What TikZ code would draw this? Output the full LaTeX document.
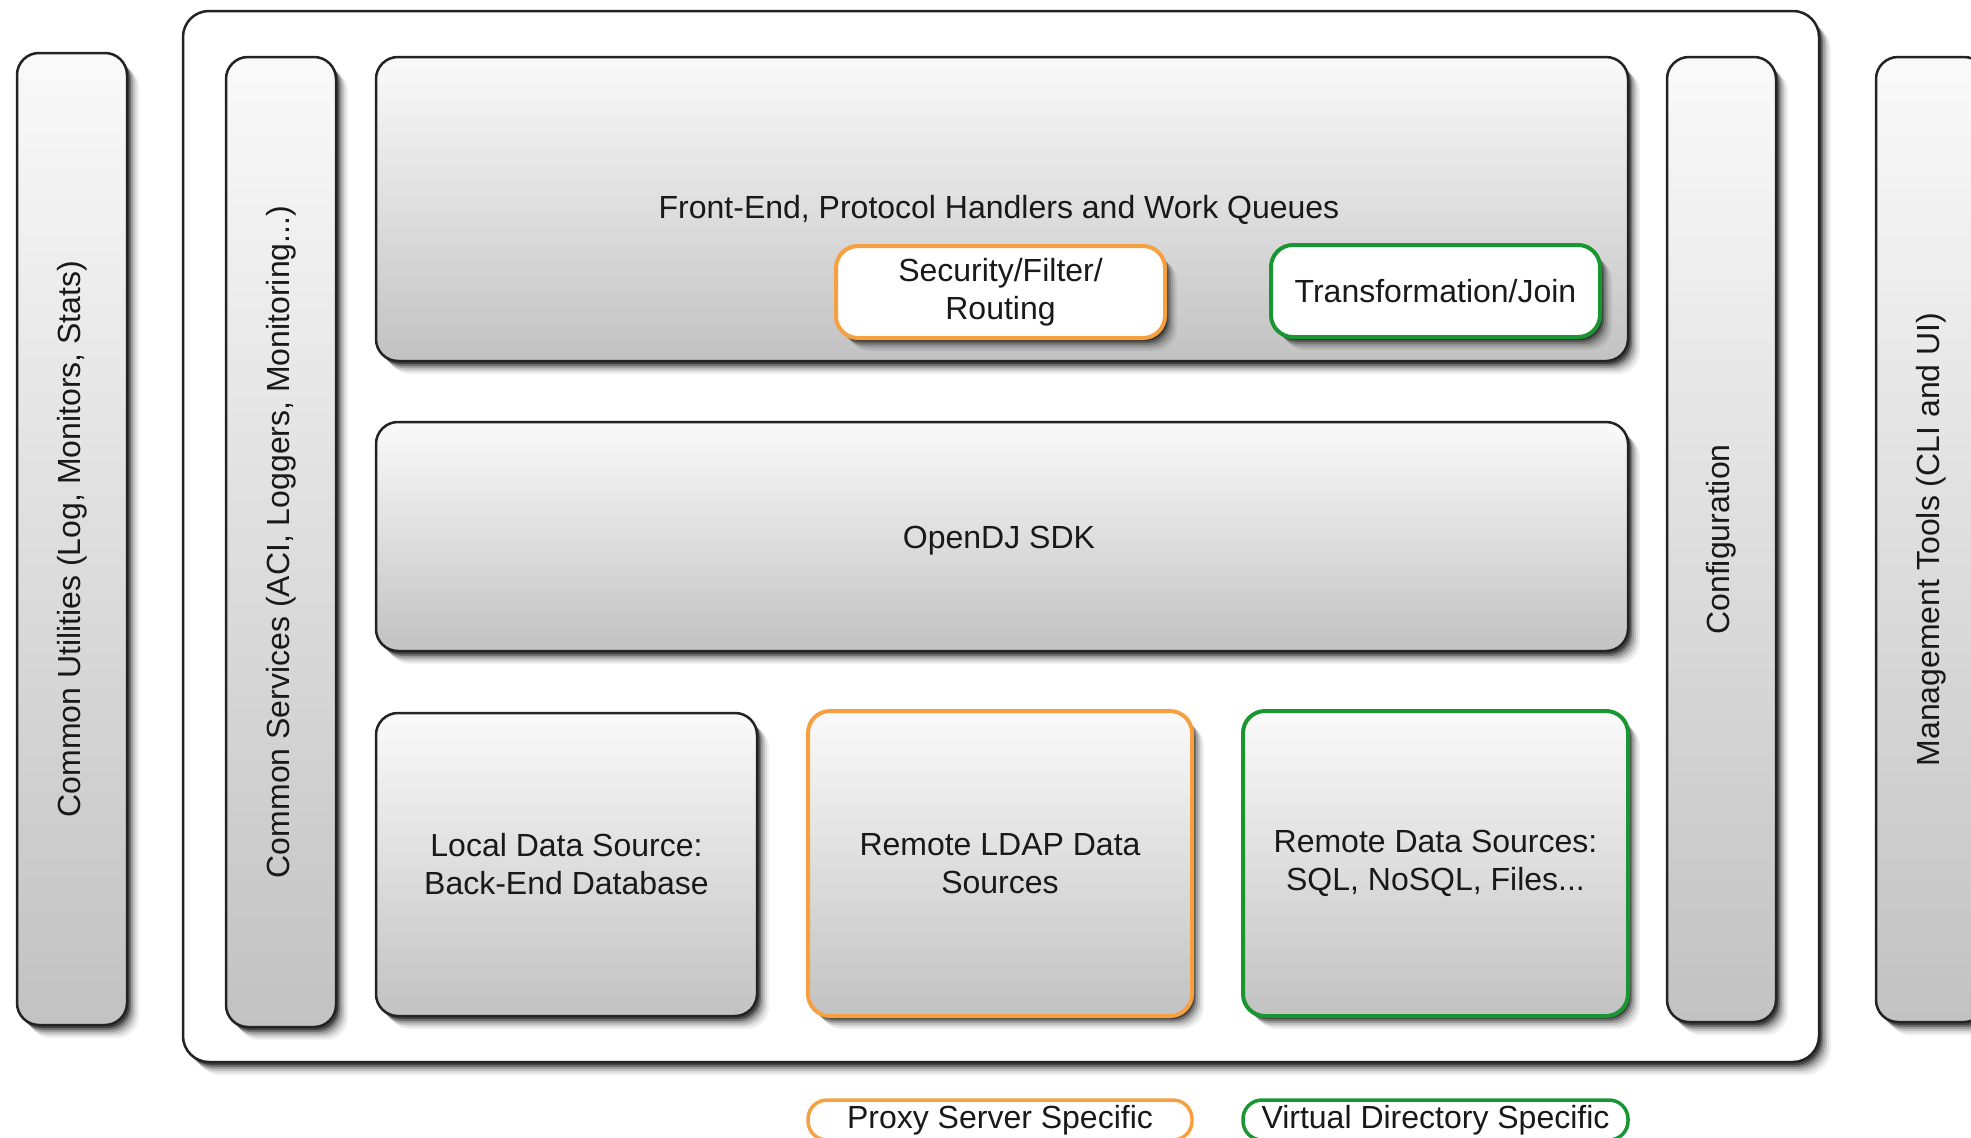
\documentclass[tikz,border=0pt]{standalone}
\usepackage{fontspec}
\setmainfont{Liberation Sans}
\usepackage{graphicx}
\usetikzlibrary{shadows}
\definecolor{orng}{RGB}{247,160,66}
\definecolor{grn}{RGB}{25,150,50}
\definecolor{gtop}{RGB}{250,250,250}
\definecolor{gbot}{RGB}{194,194,194}
\definecolor{edge}{RGB}{35,35,35}
\definecolor{txt}{RGB}{25,25,25}
\tikzset{
  softshadow/.style={
    general shadow={shadow xshift=12pt, shadow yshift=-13pt, shadow scale=1.0, opacity=0.06, fill=black},
    general shadow={shadow xshift=10pt, shadow yshift=-11pt, opacity=0.08, fill=black},
    general shadow={shadow xshift=8pt, shadow yshift=-9pt, opacity=0.12, fill=black},
    general shadow={shadow xshift=6pt, shadow yshift=-7pt, opacity=0.18, fill=black},
    general shadow={shadow xshift=4pt, shadow yshift=-5pt, opacity=0.28, fill=black},
    general shadow={shadow xshift=2.5pt, shadow yshift=-3pt, opacity=0.4, fill=black}},
  base/.style={rectangle, rounded corners=22pt, draw=edge, line width=2.5pt,
    inner sep=0pt, align=center, text=txt, font=\fontsize{32}{38}\selectfont,
    softshadow},
  grad/.style={base, top color=gtop, bottom color=gbot},
  whitebox/.style={base, fill=white},
  orangeedge/.style={draw=orng, line width=4pt},
  greenedge/.style={draw=grn, line width=4pt},
  label text/.style={font=\fontsize{32}{38}\selectfont, text=txt, inner sep=0pt},
  legend/.style={rectangle, rounded corners=19pt, fill=white, line width=3.5pt,
    inner sep=0pt, align=center, text=txt, font=\fontsize{32}{38}\selectfont},
}
\begin{document}
\begin{tikzpicture}[x=1pt, y=-1pt]
\clip (0,0) rectangle (1971,1138);
\fill[white] (0,0) rectangle (1971,1138);

% left / right pillars
\node[grad, minimum width=110, minimum height=972] (cu) at (72,539)
  {\rotatebox{90}{Common Utilities (Log, Monitors, Stats)}};
\node[grad, minimum width=110, minimum height=965] (mgmt) at (1931,539.5)
  {\rotatebox{90}{Management Tools (CLI and UI)}};

% outer container
\node[whitebox, rounded corners=26pt, minimum width=1636, minimum height=1051] (outer) at (1001,536.5) {};

\node[grad, minimum width=110, minimum height=970] (cs) at (281,542)
  {\rotatebox{90}{Common Services (ACI, Loggers, Monitoring...)}};
\node[grad, minimum width=109, minimum height=965] (conf) at (1721.5,539.5)
  {\rotatebox{90}{Configuration}};

% front end
\node[grad, minimum width=1252, minimum height=304] (fe) at (1002,209) {};
\node[label text] (fet) at (999,210)
  {Front-End, Protocol Handlers and Work Queues};
\node[whitebox, orangeedge, minimum width=329, minimum height=92] (sec) at (1000.5,292)
  {Security/Filter/\\Routing};
\node[whitebox, greenedge, minimum width=329, minimum height=92] (tj) at (1435.5,291)
  {Transformation/Join};

% SDK
\node[grad, minimum width=1252, minimum height=229] (sdk) at (1002,536.5) {};
\node[label text] (sdkt) at (999,541) {OpenDJ SDK};

% data sources
\node[grad, minimum width=381, minimum height=303] (lds) at (566.5,864.5)
  {Local Data Source:\\Back-End Database};
\node[grad, orangeedge, minimum width=384, minimum height=305] (rldap) at (1000,863.5)
  {Remote LDAP Data\\Sources};
\node[grad, greenedge, minimum width=385, minimum height=305] (rds) at (1435.5,863.5)
  {Remote Data Sources:\\SQL, NoSQL, Files...};

% legend
\node[legend, draw=orng, minimum width=384, minimum height=40] (lp) at (1000,1120)
  {Proxy Server Specific};
\node[legend, draw=grn, minimum width=385, minimum height=40] (lv) at (1435.5,1120)
  {Virtual Directory Specific};
\end{tikzpicture}
\end{document}
